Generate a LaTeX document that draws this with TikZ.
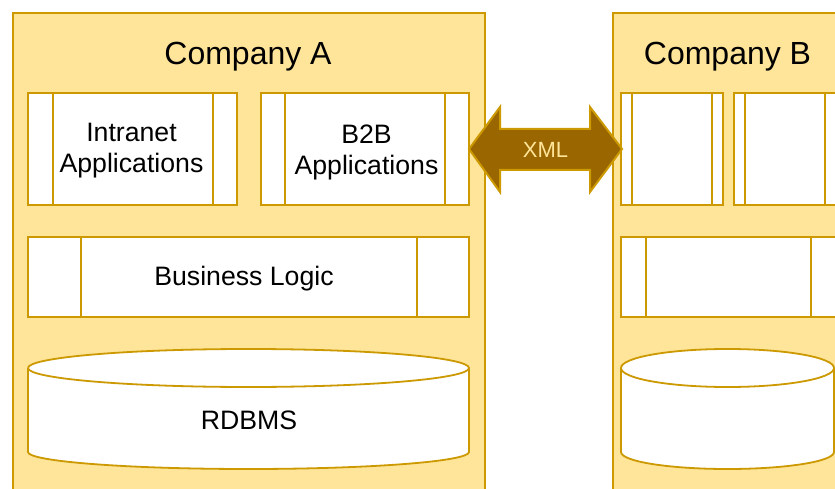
\documentclass[tikz,border=0pt]{standalone}
\usepackage{fontspec}
\setmainfont{Liberation Sans}
\definecolor{gold}{HTML}{CC9900}
\definecolor{paleyellow}{HTML}{FFE599}
\definecolor{bronze}{HTML}{996600}
\tikzset{
  company/.style={draw=gold, fill=paleyellow, line width=2pt},
  procbox/.style={draw=gold, fill=white, line width=2pt, rectangle, inner sep=0pt},
  sidebar/.style={draw=gold, line width=2pt},
  dbshape/.style={draw=gold, fill=white, line width=1.8pt},
  title/.style={font=\fontsize{32}{38}\selectfont, inner sep=0pt},
  label/.style={font=\fontsize{26.67}{31}\selectfont, inner sep=0pt, align=center},
  xmlarrow/.style={draw=gold, fill=bronze, line width=2pt, line join=miter},
}
\begin{document}
\begin{tikzpicture}[x=1pt, y=-1pt]
\useasboundingbox (0,0) rectangle (835,489);
\clip (0,0) rectangle (835,489);

% ---------------- Company A ----------------
\draw[company] (13,13) rectangle (485,500);
\node[title] (titleA) at (248,57) {Company A};

\node[procbox, minimum width=209pt, minimum height=112pt] (intra) at (132.5,149) {};
\draw[sidebar] ([xshift=26pt]intra.north west) -- ([xshift=26pt]intra.south west);
\draw[sidebar] ([xshift=-25pt]intra.north east) -- ([xshift=-25pt]intra.south east);
\node[label] (intraText) at (131.5,150.5) {Intranet\\Applications};

\node[procbox, minimum width=208pt, minimum height=112pt] (b2b) at (365,149.5) {};
\draw[sidebar] ([xshift=25pt]b2b.north west) -- ([xshift=25pt]b2b.south west);
\draw[sidebar] ([xshift=-25pt]b2b.north east) -- ([xshift=-25pt]b2b.south east);
\node[label] (b2bText) at (366.5,152) {B2B\\Applications};

\node[procbox, minimum width=441pt, minimum height=80pt] (logicA) at (248.5,277) {};
\draw[sidebar] ([xshift=54pt]logicA.north west) -- ([xshift=54pt]logicA.south west);
\draw[sidebar] ([xshift=-53pt]logicA.north east) -- ([xshift=-53pt]logicA.south east);
\node[label] (logicText) at (244,279) {Business Logic};

% database cylinder (arc radii are page lengths, so angle 270 points down)
\draw[dbshape] (28,368) -- (28,452)
  arc[start angle=180, end angle=360, x radius=220.5pt, y radius=17pt]
  -- (469,368)
  arc[start angle=0, end angle=180, x radius=220.5pt, y radius=19pt];
\draw[dbshape, fill=none] (28,368)
  arc[start angle=180, end angle=360, x radius=220.5pt, y radius=19pt];
\node[label] (dbA) at (249,420) {RDBMS};

% ---------------- Company B ----------------
\draw[company] (612.5,13) rectangle (845,500);
\node[title] (titleB) at (727.5,57) {Company B};

\node[procbox, minimum width=102pt, minimum height=112pt] (appB1) at (672,149) {};
\draw[sidebar] ([xshift=12pt]appB1.north west) -- ([xshift=12pt]appB1.south west);
\draw[sidebar] ([xshift=-12pt]appB1.north east) -- ([xshift=-12pt]appB1.south east);

\node[procbox, minimum width=102pt, minimum height=112pt] (appB2) at (785,149) {};
\draw[sidebar] ([xshift=12pt]appB2.north west) -- ([xshift=12pt]appB2.south west);
\draw[sidebar] ([xshift=-12pt]appB2.north east) -- ([xshift=-12pt]appB2.south east);

\node[procbox, minimum width=215pt, minimum height=80pt] (logicB) at (728.5,277) {};
\draw[sidebar] ([xshift=26pt]logicB.north west) -- ([xshift=26pt]logicB.south west);
\draw[sidebar] ([xshift=-26pt]logicB.north east) -- ([xshift=-26pt]logicB.south east);

\draw[dbshape] (621,368) -- (621,452)
  arc[start angle=180, end angle=360, x radius=106.5pt, y radius=17pt]
  -- (834,368)
  arc[start angle=0, end angle=180, x radius=106.5pt, y radius=19pt];
\draw[dbshape, fill=none] (621,368)
  arc[start angle=180, end angle=360, x radius=106.5pt, y radius=19pt];

% ---------------- XML exchange arrow ----------------
\draw[xmlarrow] (469,149) -- (500,107) -- (500,129) -- (590,129) -- (590,107)
  -- (622,149) -- (590,192) -- (590,170) -- (500,170) -- (500,192) -- cycle;
\node[text=paleyellow, font=\fontsize{22}{26}\selectfont, inner sep=0pt] (xml)
  at (545.5,150) {XML};
\end{tikzpicture}
\end{document}
